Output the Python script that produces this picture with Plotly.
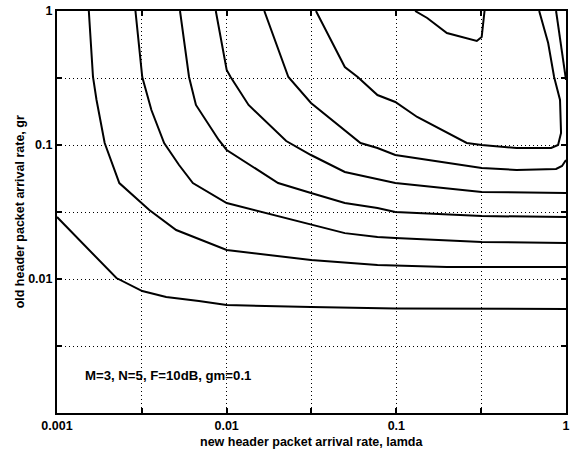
import plotly.graph_objects as go

# contour lines (x = lamda, y = gr)
c1_x = [0.001, 0.00224, 0.00318, 0.0044, 0.00686, 0.01, 0.0314, 0.0986, 1]
c1_y = [0.029, 0.01017, 0.00813, 0.00734, 0.00685, 0.0064, 0.00618, 0.00602, 0.00597]

c2_x = [0.00154, 0.00163, 0.00171, 0.00191, 0.00233, 0.0035, 0.00504, 0.00686, 0.01, 0.0314, 0.0774, 0.1986, 1]
c2_y = [1, 0.3217, 0.2168, 0.1035, 0.052, 0.0327, 0.0232, 0.0199, 0.01645, 0.01386, 0.01271, 0.0123, 0.0123]

c3_x = [0.0029, 0.00318, 0.0036, 0.00428, 0.00524, 0.00632, 0.01, 0.0314, 0.0497, 0.0774, 0.0986, 0.3185, 1]
c3_y = [1, 0.3217, 0.1824, 0.1035, 0.0709, 0.052, 0.0369, 0.0253, 0.022, 0.0206, 0.0202, 0.0189, 0.0186]

c4_x = [0.00531, 0.006, 0.00659, 0.00898, 0.01, 0.0201, 0.0314, 0.0497, 0.0774, 0.0986, 0.3185, 1]
c4_y = [1, 0.3217, 0.199, 0.109, 0.0918, 0.052, 0.0438, 0.0369, 0.0339, 0.0316, 0.0295, 0.029]

c5_x = [0.00863, 0.01, 0.01055, 0.01346, 0.02244, 0.0314, 0.0497, 0.0774, 0.0986, 0.3185, 1]
c5_y = [1, 0.363, 0.3217, 0.199, 0.1071, 0.0842, 0.0629, 0.0557, 0.052, 0.0446, 0.0438]

c6_x = [0.01667, 0.0231, 0.0314, 0.0615, 0.0774, 0.0986, 0.3185, 0.5106, 0.874, 0.9475, 1]
c6_y = [1, 0.3217, 0.2057, 0.1035, 0.095, 0.0842, 0.0674, 0.0651, 0.0662, 0.0697, 0.0773]

c7_x = [0.0336, 0.0497, 0.0592, 0.0774, 0.0986, 0.1327, 0.26, 0.3185, 0.5106, 0.817, 0.898, 0.935, 0.922, 0.851, 0.785, 0.695]
c7_y = [1, 0.382, 0.3217, 0.236, 0.2094, 0.1618, 0.1035, 0.1, 0.095, 0.095, 0.1, 0.123, 0.2168, 0.3217, 0.577, 1]

c8_x = [0.129, 0.152, 0.1986, 0.298, 0.3185, 0.331]
c8_y = [1, 0.887, 0.685, 0.597, 0.64, 1]

c9_x = [0.874, 0.91, 0.973, 1]
c9_y = [1, 0.685, 0.382, 0.306]

contours = [(c1_x, c1_y), (c2_x, c2_y), (c3_x, c3_y), (c4_x, c4_y), (c5_x, c5_y),
            (c6_x, c6_y), (c7_x, c7_y), (c8_x, c8_y), (c9_x, c9_y)]

x_ticks = [0.001, 0.00316, 0.01, 0.0316, 0.1, 0.316, 1]
x_labels = ["<b>0.001</b>", "", "<b>0.01</b>", "", "<b>0.1</b>", "", "<b>1</b>"]
y_ticks = [0.001, 0.00316, 0.01, 0.0316, 0.1, 0.316, 1]
y_labels = ["", "", "<b>0.01</b>", "", "<b>0.1</b>", "", "<b>1</b>"]

note = "M=3, N=5, F=10dB, gm=0.1"
x_title = "new header packet arrival rate, lamda"
y_title = "old header packet arrival rate, gr"

FONT = "Arial, Liberation Sans, Helvetica, sans-serif"

fig = go.Figure()
for cx, cy in contours:
    fig.add_trace(go.Scatter(x=cx, y=cy, mode="lines",
                             line=dict(color="black", width=2),
                             showlegend=False, hoverinfo="skip"))

axis_common = dict(type="log", showgrid=True, gridcolor="black", gridwidth=1,
                   griddash="1px,3px", showline=True, linecolor="black", linewidth=2,
                   mirror="ticks", ticks="inside", ticklen=5, tickwidth=1.5,
                   tickcolor="black", zeroline=False,
                   tickfont=dict(family=FONT, size=12.5, color="black"))

fig.update_xaxes(range=[-3, 0], tickmode="array", tickvals=x_ticks, ticktext=x_labels,
                 **axis_common)
fig.update_yaxes(range=[-3, 0], tickmode="array", tickvals=y_ticks, ticktext=y_labels,
                 **axis_common)

fig.add_annotation(text="<b>" + note + "</b>", xref="paper", yref="paper", x=0.0507, y=0.0945,
                   xanchor="left", yanchor="middle", showarrow=False,
                   font=dict(family=FONT, size=13.2, color="black"))
fig.add_annotation(text="<b>" + x_title + "</b>", xref="paper", yref="paper", x=0.5, y=-0.072,
                   xanchor="center", yanchor="middle", showarrow=False,
                   font=dict(family=FONT, size=12.5, color="black"))
fig.add_annotation(text="<b>" + y_title + "</b>", xref="paper", yref="paper", x=-0.072, y=0.5,
                   xanchor="center", yanchor="middle", showarrow=False, textangle=-90,
                   font=dict(family=FONT, size=12.5, color="black"))

fig.update_layout(width=573, height=451, margin=dict(l=57, r=3, t=11, b=38),
                  paper_bgcolor="white", plot_bgcolor="white")

fig.write_html("out.html")
